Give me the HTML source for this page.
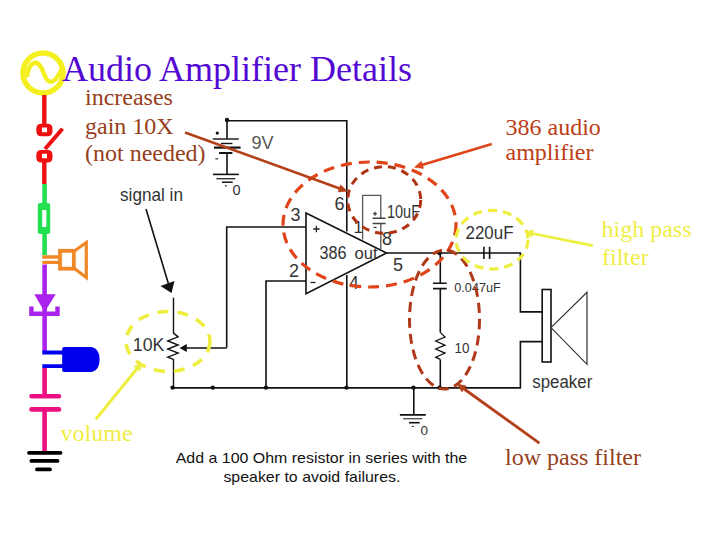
<!DOCTYPE html>
<html><head><meta charset="utf-8">
<style>
html,body{margin:0;padding:0;background:#fff;width:720px;height:540px;overflow:hidden}
svg{position:absolute;left:0;top:0;display:block}
.serif{font-family:"Liberation Serif",serif}
.sans{font-family:"Liberation Sans",sans-serif}
</style></head>
<body>
<svg width="720" height="540" viewBox="0 0 720 540">
<!-- ===== left symbol bar ===== -->
<g fill="none" stroke-linecap="butt">
  <!-- yellow AC source -->
  <circle cx="43" cy="73" r="20" stroke="#f4f020" stroke-width="5.5"/>
  <path d="M26.8 77 C28.5 66 32 62.8 35.6 62.8 C40 62.8 42.5 70 45 76 C46.5 79.5 48 81.8 50.5 81.8 C54.5 81.8 58.5 76 61.5 69.3" stroke="#f4f020" stroke-width="4.4"/>
  <!-- red wire + switch -->
  <path d="M44.3 95 V124 M44.3 161 V184" stroke="#ee1010" stroke-width="4.4"/>
  <path d="M41.3 123.8 H47.5 Q52.5 123.8 52.5 128.8 V131.3 Q52.5 136.3 47.5 136.3 H41.3 Q36.3 136.3 36.3 131.3 V128.8 Q36.3 123.8 41.3 123.8 Z M42 127.6 V132.2 H47 V127.6 Z" fill="#ee1010" fill-rule="evenodd" stroke="none"/>
  <path d="M41.3 150 H47.5 Q52.5 150 52.5 155 V157.5 Q52.5 162.5 47.5 162.5 H41.3 Q36.3 162.5 36.3 157.5 V155 Q36.3 150 41.3 150 Z M42 153.7 V158.2 H47 V153.7 Z" fill="#ee1010" fill-rule="evenodd" stroke="none"/>
  <path d="M62.5 128.8 L45 149" stroke="#ee1010" stroke-width="4"/>
  <!-- green wire + resistor -->
  <path d="M44.6 184 V205 M44.6 232 V255" stroke="#22e050" stroke-width="4.6"/>
  <path d="M40.3 203 H47.7 Q50.2 203 50.2 205.5 V231.5 Q50.2 234 47.7 234 H40.3 Q37.8 234 37.8 231.5 V205.5 Q37.8 203 40.3 203 Z M42.2 210 V227 H46.4 V210 Z" fill="#22e050" fill-rule="evenodd" stroke="none"/>
  <!-- orange speaker -->
  <path d="M42.3 257 H60 M42.3 262.4 H60" stroke="#f08828" stroke-width="3.4"/>
  <rect x="60" y="250.8" width="13.8" height="17.9" stroke="#f08828" stroke-width="3.8"/>
  <path d="M74.5 251 L86.3 242.5 V277.5 L74.5 268.5" stroke="#f08828" stroke-width="3.2" stroke-linejoin="miter"/>
  <!-- purple wire + diode -->
  <path d="M44.6 264.5 V351" stroke="#aa22ee" stroke-width="4.6"/>
  <path d="M34.3 294.3 H55.7 L44.6 312 Z" fill="#aa22ee" stroke="none"/>
  <path d="M31.4 306.5 V313.7 H57.5 V306.5" stroke="#aa22ee" stroke-width="4.4"/>
  <!-- blue LED -->
  <path d="M42.3 352.5 H63 M42.3 366.1 H63" stroke="#0000ee" stroke-width="3.8"/>
  <path d="M64 347.1 H90.5 C96 347.1 99.6 352 99.6 359.5 C99.6 367 96 371.9 90.5 371.9 H64 Q62.2 371.9 62.2 370 V349 Q62.2 347.1 64 347.1 Z" fill="#0000ee" stroke="none"/>
  <!-- pink capacitor -->
  <path d="M44.6 368 V396 M44.6 409.4 V451.5" stroke="#ee1080" stroke-width="4.6"/>
  <path d="M31.5 396.2 H59 M31.5 409.4 H59" stroke="#ee1080" stroke-width="4.6" stroke-linecap="round"/>
  <!-- ground -->
  <path d="M29 452.8 H60.5 M31.4 460.9 H57.5 M37 469.4 H50" stroke="#000" stroke-width="3.8" stroke-linecap="round"/>
</g>

<!-- ===== title / annotations ===== -->
<text class="serif" x="62" y="81.2" font-size="36" fill="#5408d4">Audio Amplifier Details</text>
<g class="serif" font-size="24" fill="#96401c">
  <text x="85" y="105.2">increases</text>
  <text x="85" y="134.2">gain 10X</text>
  <text x="85" y="160.7">(not needed)</text>
  <text x="505" y="465">low pass filter</text>
</g>
<g class="serif" font-size="24" fill="#bc3e16">
  <text x="505.5" y="134.7">386 audio</text>
  <text x="505.5" y="160">amplifier</text>
</g>
<g class="serif" font-size="24" fill="#eeee44">
  <text x="601.5" y="237">high pass</text>
  <text x="602" y="265.2">filter</text>
  <text x="60.6" y="440.8">volume</text>
</g>
<g class="sans" font-size="14.3" fill="#111">
  <text x="175.7" y="462.8" textLength="291.5" lengthAdjust="spacingAndGlyphs">Add a 100 Ohm resistor in series with the</text>
  <text x="223.4" y="481.7" textLength="177" lengthAdjust="spacingAndGlyphs">speaker to avoid failures.</text>
</g>

<!-- ===== schematic ===== -->
<g fill="none" stroke="#111" stroke-width="1.6">
  <!-- battery -->
  <path d="M227 120.8 H346.8 V231.5"/>
  <path d="M227 120.8 V139 M227 153 V174.4"/>
  <path d="M212.8 139 H238.7" stroke-width="1.4"/>
  <path d="M221 143.5 H232.4" stroke-width="1.4"/>
  <path d="M214 147.6 H240.6" stroke-width="2.2"/>
  <path d="M219.1 153 H232.4" stroke-width="2"/>
  <path d="M212.9 174.4 H238.8"/><path d="M216.4 178.7 H235.3" stroke="#333" stroke-width="1.4"/><path d="M222 182.2 H232.7" stroke-width="1.5"/>
  <!-- pin 3 / pin 2 wires -->
  <path d="M306 227 H226.7 V347.8"/>
  <path d="M306 281 H266 V387.5"/>
  <!-- op amp -->
  <path d="M306 213 L386.5 253 L306 293.6 Z"/>
  <path d="M346.8 275 V387.5"/>
  <!-- pin1 / pin8 -->
  <path d="M362.6 239.4 V195.4 H380.8 V218.2 M380.8 223.6 V249" stroke="#555" stroke-width="1.3"/>
  <path d="M372.6 218.2 H385.6 M372.6 223.6 H385.6" stroke="#444" stroke-width="1.5"/>
  <!-- output -->
  <path d="M386.5 253 H520.4 V311.9 H542.2"/>
  <path d="M483.9 246.7 V258.9 M489.6 246.7 V258.9"/>
  <path d="M440.3 253 V283.6 M440.3 288.5 V332.4 M440.3 359.4 V387.9"/>
  <path d="M433 283.3 H446.7 M433 288.6 H446.7"/>
  <path d="M440.3 332.4 L445 337 L435.7 341 L445 345.2 L435.7 349 L445 353.1 L435.7 357.2 L440.3 359.4" stroke-width="1.3"/>
  <!-- speaker -->
  <rect x="542.2" y="289.5" width="8.8" height="72.5"/>
  <path d="M551 327.6 L587 292.2 V364.4 Z" stroke="#333" stroke-width="1.2"/>
  <path d="M542.2 341.6 H520.4 V387.9 H172.7"/>
  <!-- ground -->
  <path d="M413.8 387.9 V414.9 M399.9 414.9 H425.8"/><path d="M403.1 418.7 H422.3" stroke="#555" stroke-width="1.4"/><path d="M409 422.7 H419.7" stroke-width="1.6"/>
  <!-- potentiometer -->
  <path d="M173.5 297.8 V333.1 L178.1 336.9 L167.8 340.9 L178.1 345 L167.8 349.1 L178.1 353.1 L167.8 357.2 L173.5 359.4 V387.9" stroke-width="1.4"/>
  <path d="M186.3 348 H226.7"/>
  <path d="M179.6 348 L186.8 343.9 V352.1 Z" fill="#111" stroke="none"/>
  <!-- signal in arrow -->
  <path d="M146 209 L168.5 284"/>
  <path d="M171.5 293 L160.5 286 L174.5 281 Z" fill="#111" stroke="none"/>
</g>
<g fill="#111">
  <circle cx="227" cy="120" r="2.2"/>
  <circle cx="172.6" cy="387.6" r="2.2"/>
  <circle cx="212.8" cy="387.6" r="2.2"/>
  <circle cx="266" cy="387.6" r="2.2"/>
  <circle cx="346.5" cy="387.6" r="2.2"/>
  <circle cx="413.4" cy="387.6" r="2.2"/>
  <circle cx="439.6" cy="387.6" r="2.2"/>
  <circle cx="439.6" cy="253" r="2.2"/>
</g>
<g fill="none" stroke="#222" stroke-width="1.3">
  <path d="M313.2 229 H319.6 M316.4 225.8 V232.2"/>
  <path d="M310.5 282.5 H315.5"/>
  <path d="M373 213.7 H377 M375 211.7 V215.7" stroke-width="1.1"/>
  <path d="M373.5 227.4 H376.5" stroke-width="1.1"/>
  <circle cx="217.3" cy="133.1" r="1.6" fill="#111" stroke="none"/>
  <path d="M215.3 158.8 H218.3" stroke-width="1.1"/>
  <path d="M224.8 185.8 H226.8" stroke-width="1.1"/>
  <path d="M411.8 426.4 H413.8" stroke-width="1.1"/>
</g>
<g class="sans" fill="#333">
  <text x="251.5" y="149.2" font-size="17.5" fill="#555" textLength="22" lengthAdjust="spacingAndGlyphs">9V</text>
  <text x="232.6" y="194.8" font-size="14.5">0</text>
  <text x="120" y="200.8" font-size="18.5" textLength="63" lengthAdjust="spacingAndGlyphs">signal in</text>
  <text x="290.5" y="221.2" font-size="18">3</text>
  <text x="289" y="277" font-size="18">2</text>
  <text x="334.5" y="210.3" font-size="18">6</text>
  <text x="349" y="289.2" font-size="17.5">4</text>
  <text x="353.5" y="233.2" font-size="17">1</text>
  <text x="382" y="245.4" font-size="18">8</text>
  <text x="393" y="270.5" font-size="18">5</text>
  <text x="319.5" y="259" font-size="17.6" textLength="27" lengthAdjust="spacingAndGlyphs">386</text>
  <text x="354.5" y="258.6" font-size="16" textLength="23" lengthAdjust="spacingAndGlyphs">out</text>
  <text x="387" y="217.6" font-size="18.4" textLength="33" lengthAdjust="spacingAndGlyphs">10uF</text>
  <text x="465.5" y="238.8" font-size="18.6" textLength="48" lengthAdjust="spacingAndGlyphs">220uF</text>
  <text x="454.3" y="291.7" font-size="12.3" textLength="46.5" lengthAdjust="spacingAndGlyphs">0.047uF</text>
  <text x="454.5" y="352.9" font-size="15" textLength="15" lengthAdjust="spacingAndGlyphs">10</text>
  <text x="132.8" y="351.2" font-size="17.6" textLength="31.5" lengthAdjust="spacingAndGlyphs">10K</text>
  <text x="532.3" y="387.9" font-size="17.5" textLength="60" lengthAdjust="spacingAndGlyphs">speaker</text>
  <text x="420.5" y="435.2" font-size="13.5">0</text>
</g>

<!-- ===== dashed ellipses ===== -->
<g fill="none" stroke-width="3" stroke-dasharray="12 7">
  <ellipse cx="369.5" cy="224.5" rx="86.5" ry="62.5" stroke="#e04418" stroke-width="3.2" stroke-dasharray="11 7"/>
  <ellipse cx="384.2" cy="200" rx="36.5" ry="33.3" stroke="#b03414" stroke-width="3" stroke-dasharray="8 6"/>
  <ellipse cx="444.5" cy="319.5" rx="35" ry="69.5" stroke="#b03a18" stroke-width="3" stroke-dasharray="10 6"/>
  <ellipse cx="492" cy="239.7" rx="36" ry="29.3" stroke="#eeee40" stroke-width="3.2" stroke-dasharray="9 6"/>
  <ellipse cx="168" cy="341.5" rx="42" ry="30" stroke="#eeee40" stroke-width="3.6" stroke-dasharray="11 9"/>
</g>

<!-- ===== arrows ===== -->
<g fill="none">
  <path d="M185.0 132.5 L342.4 189.5" stroke="#b4401a" stroke-width="2.6"/>
  <path d="M346.9 191.1 L338.2 191.8 L340.6 185.0 Z" fill="#b4401a" stroke="#b4401a" stroke-width="0.8" stroke-linejoin="miter"/>
  <path d="M491.8 143.9 L419.3 165.8" stroke="#e04418" stroke-width="2.6"/>
  <path d="M414.7 167.2 L421.3 161.4 L423.4 168.3 Z" fill="#e04418" stroke="#e04418" stroke-width="0.8" stroke-linejoin="miter"/>
  <path d="M539.4 443.2 L461.4 387.0" stroke="#b4401a" stroke-width="2.8"/>
  <path d="M457.5 384.2 L466.1 386.0 L461.9 391.8 Z" fill="#b4401a" stroke="#b4401a" stroke-width="0.8" stroke-linejoin="miter"/>
  <path d="M592.8 245.6 L529.7 233.0" stroke="#eeee40" stroke-width="2.8"/>
  <path d="M525.6 232.2 L533.2 230.0 L531.8 237.1 Z" fill="#eeee40" stroke="#eeee40" stroke-width="0.8" stroke-linejoin="miter"/>
  <path d="M95.8 419.3 L138.6 366.7" stroke="#eeee40" stroke-width="3"/>
  <path d="M141.3 363.4 L139.7 371.1 L134.1 366.6 Z" fill="#eeee40" stroke="#eeee40" stroke-width="0.8" stroke-linejoin="miter"/>
</g>
</svg>
</body></html>
